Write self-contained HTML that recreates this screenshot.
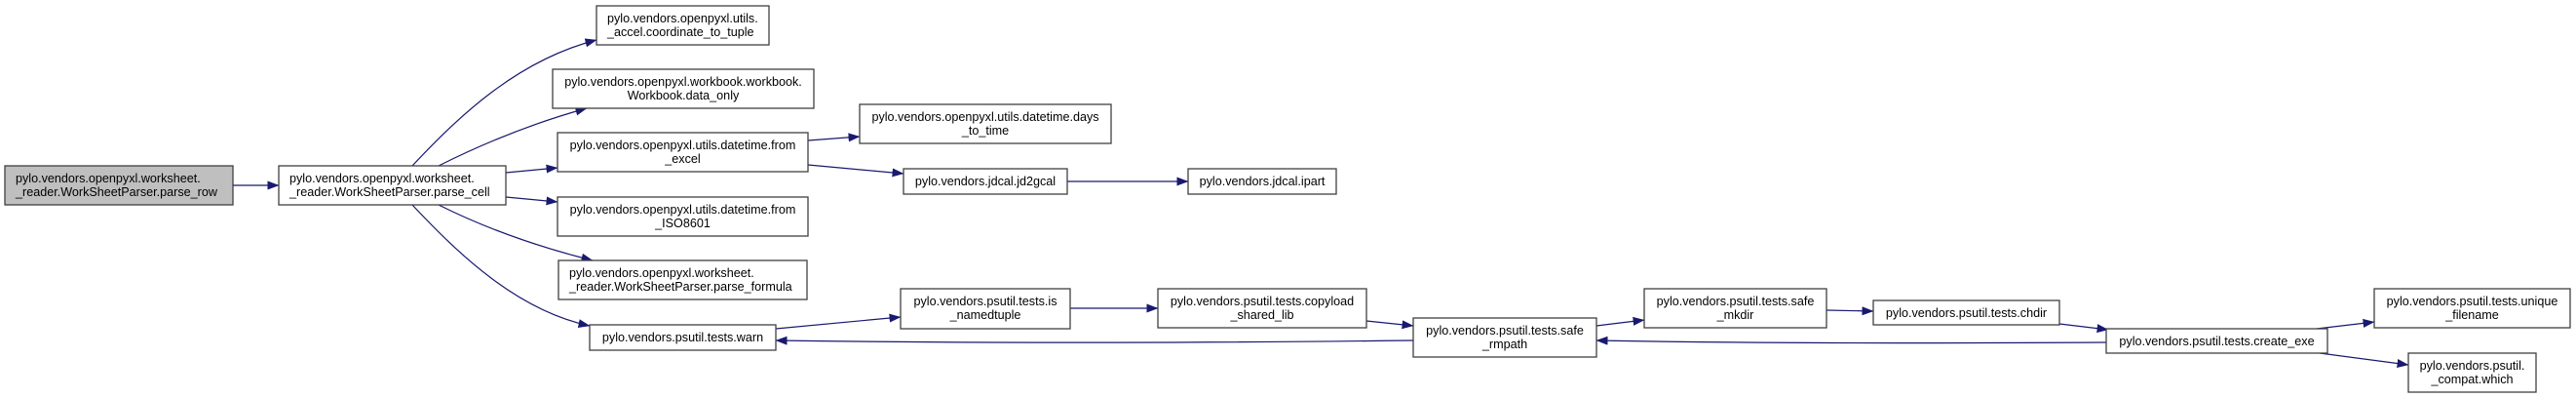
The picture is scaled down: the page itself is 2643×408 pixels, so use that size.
<!DOCTYPE html>
<html><head><meta charset="utf-8"><style>
html,body{margin:0;padding:0;background:#fff;}
svg{display:block;}
text{font-family:"Liberation Sans",Arial,sans-serif;font-size:12.6px;fill:#000;}
.b{fill:#fff;stroke:#404040;stroke-width:1.3;}
.e{fill:none;stroke:#191970;stroke-width:1.2;}
</style></head><body>
<svg width="2643" height="408" viewBox="0 0 2643 408" xmlns="http://www.w3.org/2000/svg">
<defs><marker id="a" markerUnits="userSpaceOnUse" markerWidth="13" markerHeight="10" refX="11.5" refY="4.5" orient="auto"><polygon points="0,0 12,4.5 0,9" fill="#191970"/></marker></defs>

<path class="e" marker-end="url(#a)" d="M239,190 L286,190"/>
<path class="e" marker-end="url(#a)" d="M423,170 C470,120 530,62 612,41"/>
<path class="e" marker-end="url(#a)" d="M450,170 C490,150 540,128 602,111"/>
<path class="e" marker-end="url(#a)" d="M519,177 L572,172"/>
<path class="e" marker-end="url(#a)" d="M519,202 L572,207"/>
<path class="e" marker-end="url(#a)" d="M450,210 C490,230 540,250 608,267"/>
<path class="e" marker-end="url(#a)" d="M423,210 C470,260 530,318 605,334"/>
<path class="e" marker-end="url(#a)" d="M829,144 L882,140"/>
<path class="e" marker-end="url(#a)" d="M829,169 L927,178"/>
<path class="e" marker-end="url(#a)" d="M1095,186 L1219,186"/>
<path class="e" marker-end="url(#a)" d="M796,337 L924,325"/>
<path class="e" marker-end="url(#a)" d="M1098,316 L1188,316"/>
<path class="e" marker-end="url(#a)" d="M1402,329 L1450,334"/>
<path class="e" marker-end="url(#a)" d="M1450,349 C1200,352 1000,352 796,349"/>
<path class="e" marker-end="url(#a)" d="M1638,334 L1687,328"/>
<path class="e" marker-end="url(#a)" d="M1874,318 L1922,319"/>
<path class="e" marker-end="url(#a)" d="M2113,332 L2163,338"/>
<path class="e" marker-end="url(#a)" d="M2161,351 C1950,352 1800,352 1638,349"/>
<path class="e" marker-end="url(#a)" d="M2377,337 L2436,330"/>
<path class="e" marker-end="url(#a)" d="M2380,362 L2471,374"/>

<rect x="5" y="170" width="234" height="40" style="fill:#bfbfbf;stroke:#404040;stroke-width:1.3"/>
<text x="16" y="187">pylo.vendors.openpyxl.worksheet.</text>
<text x="16" y="201">_reader.WorkSheetParser.parse_row</text>

<rect class="b" x="286" y="170" width="233" height="40"/>
<text x="297" y="187">pylo.vendors.openpyxl.worksheet.</text>
<text x="297" y="201">_reader.WorkSheetParser.parse_cell</text>

<rect class="b" x="612" y="6" width="177" height="40"/>
<text x="623" y="23">pylo.vendors.openpyxl.utils.</text>
<text x="623" y="37">_accel.coordinate_to_tuple</text>

<rect class="b" x="567" y="71" width="268" height="40"/>
<text x="701" y="88" text-anchor="middle">pylo.vendors.openpyxl.workbook.workbook.</text>
<text x="701" y="102" text-anchor="middle">Workbook.data_only</text>

<rect class="b" x="572" y="136" width="257" height="40"/>
<text x="700.5" y="153" text-anchor="middle">pylo.vendors.openpyxl.utils.datetime.from</text>
<text x="700.5" y="167" text-anchor="middle">_excel</text>

<rect class="b" x="572" y="202" width="257" height="40"/>
<text x="700.5" y="219" text-anchor="middle">pylo.vendors.openpyxl.utils.datetime.from</text>
<text x="700.5" y="233" text-anchor="middle">_ISO8601</text>

<rect class="b" x="573" y="267" width="255" height="40"/>
<text x="584" y="284">pylo.vendors.openpyxl.worksheet.</text>
<text x="584" y="298">_reader.WorkSheetParser.parse_formula</text>

<rect class="b" x="605" y="333" width="191" height="26"/>
<text x="700.5" y="350" text-anchor="middle">pylo.vendors.psutil.tests.warn</text>

<rect class="b" x="882" y="107" width="258" height="40"/>
<text x="1011" y="124" text-anchor="middle">pylo.vendors.openpyxl.utils.datetime.days</text>
<text x="1011" y="138" text-anchor="middle">_to_time</text>

<rect class="b" x="927" y="173" width="168" height="26"/>
<text x="1011" y="190" text-anchor="middle">pylo.vendors.jdcal.jd2gcal</text>

<rect class="b" x="1219" y="173" width="152" height="26"/>
<text x="1295" y="190" text-anchor="middle">pylo.vendors.jdcal.ipart</text>

<rect class="b" x="924" y="296" width="174" height="41"/>
<text x="1011" y="313" text-anchor="middle">pylo.vendors.psutil.tests.is</text>
<text x="1011" y="327" text-anchor="middle">_namedtuple</text>

<rect class="b" x="1188" y="296" width="214" height="40"/>
<text x="1295" y="313" text-anchor="middle">pylo.vendors.psutil.tests.copyload</text>
<text x="1295" y="327" text-anchor="middle">_shared_lib</text>

<rect class="b" x="1450" y="326" width="188" height="40"/>
<text x="1544" y="343" text-anchor="middle">pylo.vendors.psutil.tests.safe</text>
<text x="1544" y="357" text-anchor="middle">_rmpath</text>

<rect class="b" x="1687" y="296" width="187" height="40"/>
<text x="1780.5" y="313" text-anchor="middle">pylo.vendors.psutil.tests.safe</text>
<text x="1780.5" y="327" text-anchor="middle">_mkdir</text>

<rect class="b" x="1922" y="308" width="191" height="25"/>
<text x="2017.5" y="325" text-anchor="middle">pylo.vendors.psutil.tests.chdir</text>

<rect class="b" x="2161" y="337" width="227" height="25"/>
<text x="2274.5" y="354" text-anchor="middle">pylo.vendors.psutil.tests.create_exe</text>

<rect class="b" x="2436" y="296" width="201" height="40"/>
<text x="2536.5" y="313" text-anchor="middle">pylo.vendors.psutil.tests.unique</text>
<text x="2536.5" y="327" text-anchor="middle">_filename</text>

<rect class="b" x="2471" y="362" width="131" height="40"/>
<text x="2536.5" y="379" text-anchor="middle">pylo.vendors.psutil.</text>
<text x="2536.5" y="393" text-anchor="middle">_compat.which</text>
</svg>
</body></html>
